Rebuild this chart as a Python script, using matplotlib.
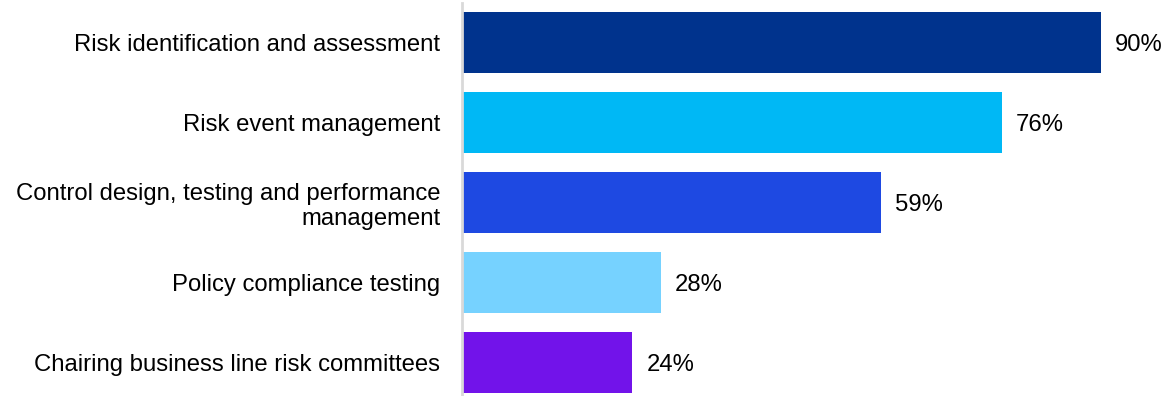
import matplotlib.pyplot as plt

categories = [
    "Risk identification and assessment",
    "Risk event management",
    "Control design, testing and performance\nmanagement",
    "Policy compliance testing",
    "Chairing business line risk committees",
]
values = [90, 76, 59, 28, 24]
colors = ["#00338D", "#00B8F5", "#1E49E2", "#76D2FF", "#7213EA"]

plt.rcParams["font.family"] = ["Liberation Sans", "DejaVu Sans"]

W, H = 1168, 396
fig = plt.figure(figsize=(W / 100, H / 100), dpi=100)
# axes box in pixels: left edge at the category axis line
ax = fig.add_axes([462 / W, 0, 710 / W, 393 / H])

pos = list(range(len(categories)))
ax.barh(pos, values, height=0.76, color=colors)
ax.set_xlim(0, 100)
ax.set_ylim(4.42, -0.494)

for p, v in zip(pos, values):
    ax.text(v + 2.0, p, f"{v}%", va="center_baseline", ha="left", fontsize=17.2)

ax.set_yticks(pos)
ax.set_yticklabels(categories, fontsize=17.2, linespacing=1.2)
ax.tick_params(axis="y", length=0, pad=15.5)
ax.set_xticks([])

for s in ["top", "right", "bottom"]:
    ax.spines[s].set_visible(False)
ax.spines["left"].set_color("#D9D9D9")
ax.spines["left"].set_linewidth(2)

fig.savefig("out.png", dpi=100)
